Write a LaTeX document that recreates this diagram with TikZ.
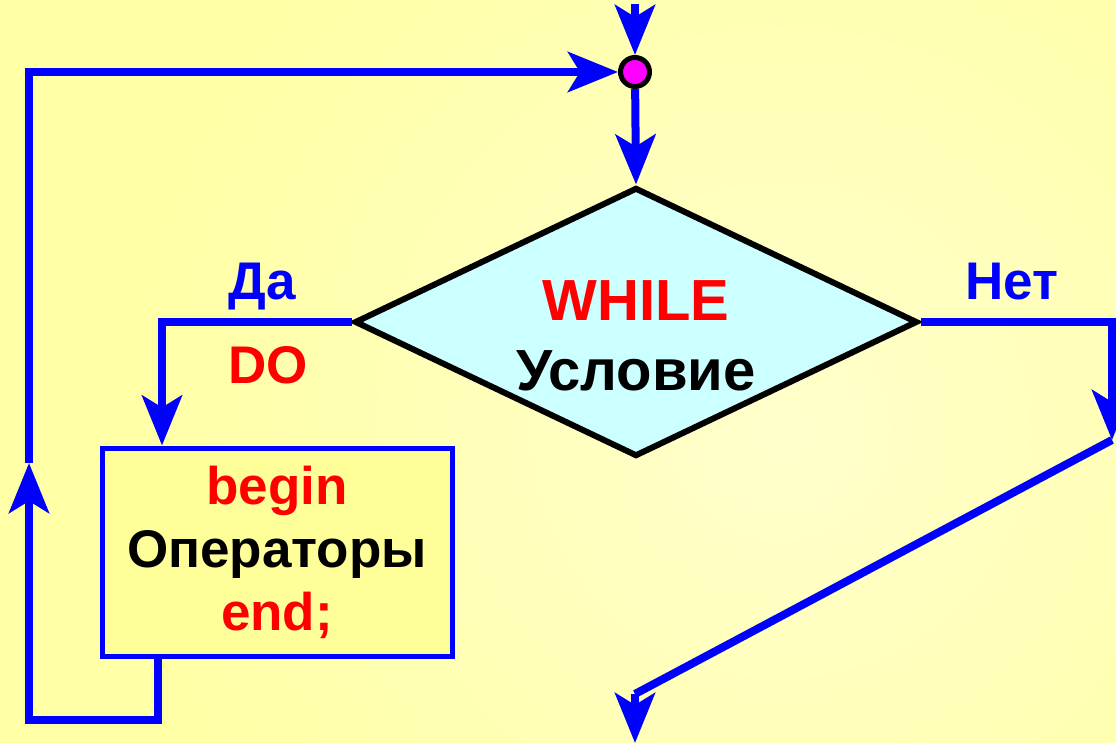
\documentclass[tikz,border=0pt]{standalone}
\usepackage{fontspec}
\setmainfont{Liberation Sans}
\usetikzlibrary{arrows.meta,shapes.geometric,calc}
\definecolor{bgout}{HTML}{FFFFA6}
\definecolor{bgin}{HTML}{FFFFCC}
\definecolor{boxfill}{HTML}{FFFF99}
\definecolor{dfill}{HTML}{CCFFFF}
\definecolor{lblue}{HTML}{0000FF}
\definecolor{lred}{HTML}{FF0000}
\definecolor{mag}{HTML}{FF00FF}
\begin{document}
\begin{tikzpicture}[x=1pt,y=-1pt,
  flow/.style={draw=lblue,line width=8pt,line join=miter},
  tip/.style={-{Stealth[length=50pt,width=40pt,inset=12pt]}},
  lbl/.style={font=\fontsize{53}{60}\selectfont\bfseries,inner sep=0pt,anchor=base},
  big/.style={font=\fontsize{58}{60}\selectfont\bfseries},
]
\useasboundingbox (0,0) rectangle (1116,743);
\fill[bgout] (0,0) rectangle (1116,743);
\begin{scope}
\clip (0,0) rectangle (1116,743);
\shade[inner color=bgin,outer color=bgout] (780,430) circle[radius=650pt];
\end{scope}

% nodes
\node[circle, fill=mag, draw=black, line width=5pt, minimum size=29pt, inner sep=0pt] (j) at (635,72) {};
\node[diamond, draw=black, line width=6pt, fill=dfill, minimum width=563pt, minimum height=269pt, inner sep=0pt] (cond) at (636,322) {};
\node[lbl, big, text=lred] (w) at (636,320) {WHILE};
\node[lbl, big, text=black] (u) at (636,390) {Условие};
\node[rectangle, draw=lblue, line width=5pt, fill=boxfill, minimum width=350pt, minimum height=208pt, inner sep=0pt,
      align=center, font=\fontsize{53}{63}\selectfont\bfseries] (body) at (277,552)
      {\textcolor{lred}{begin}\\Операторы\\\textcolor{lred}{end;}};

\node[lbl, text=lblue] (da) at (262,300) {Да};
\node[lbl, text=lred] (do) at (268,383) {DO};
\node[lbl, text=lblue] (net) at (1012,299) {Нет};

% coordinates
\coordinate (top) at (635,4);
\coordinate (dax) at (162,322);
\coordinate (nr) at (1112,322);
\coordinate (nd) at (1112,440);
\coordinate (mid) at (635,694);
\coordinate (out) at (635,743);
\coordinate (bb) at (158,720);
\coordinate (lb) at (29,720);
\coordinate (lm) at (29,463);
\coordinate (lt) at (29,72);

% connectors
\draw[flow,tip] (top) -- (j);
\draw[flow,tip] (j) -- (cond.north);
\draw[flow,tip] (cond.west) -- (dax) -- (dax |- body.north);
\draw[flow,tip] (cond.east) -- (nr) -- (nd);
\draw[flow] (nd) -- (mid);
\draw[flow,tip] (mid) -- (out);
\draw[flow,tip] (bb |- body.south) -- (bb) -- (lb) -- (lm);
\draw[flow,tip] (lm) -- (lt) -- (j);
\end{tikzpicture}
\end{document}
